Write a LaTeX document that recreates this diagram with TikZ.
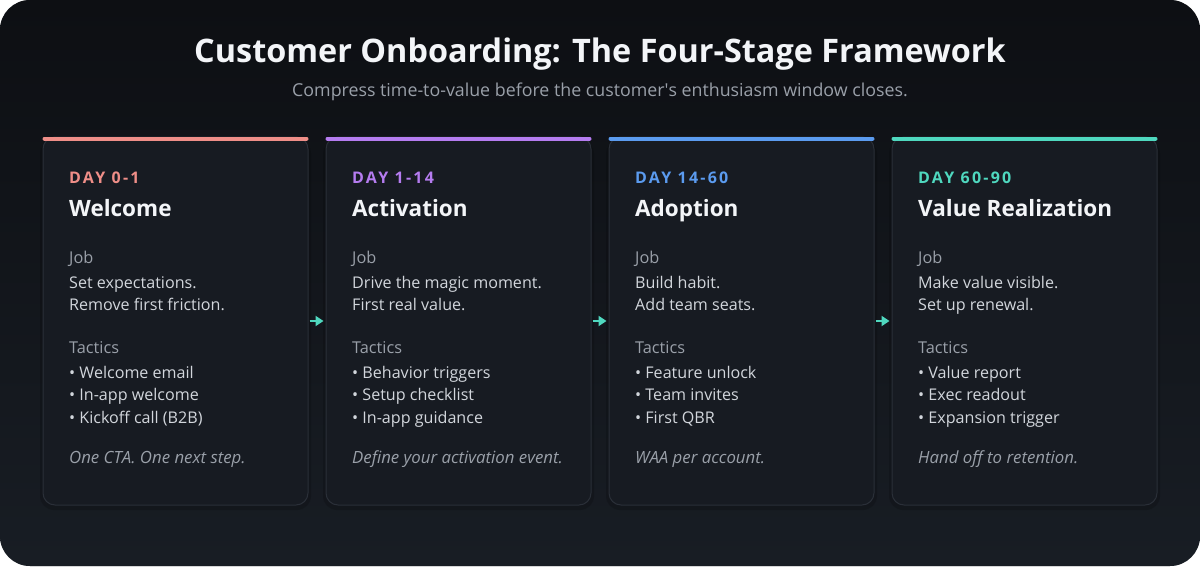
\documentclass[tikz,border=0pt]{standalone}
\usepackage{fontspec}
\setmainfont{Open Sans}
\newfontfamily\dayfont[LetterSpace=14]{Open Sans}
\usetikzlibrary{arrows.meta}
\definecolor{bgA}{HTML}{0D0F13}
\definecolor{bgB}{HTML}{181D24}
\definecolor{cardfill}{HTML}{171B22}
\definecolor{cardline}{HTML}{2A2F38}
\definecolor{muted}{HTML}{9AA0A9}
\definecolor{bodytxt}{HTML}{D2D6DC}
\definecolor{headtxt}{HTML}{F3F5F8}
\definecolor{cSalmon}{HTML}{EF8E88}
\definecolor{cPurple}{HTML}{B57CF0}
\definecolor{cBlue}{HTML}{5B9BEF}
\definecolor{cTeal}{HTML}{4FD8BF}
\tikzset{
  card/.style={draw=cardline, line width=1pt, fill=cardfill, rounded corners=12pt,
    minimum width=265pt, minimum height=368pt, inner sep=0pt},
  cardshadow/.style={fill=black, opacity=0.15, rounded corners=14pt},
  daylbl/.style={anchor=base west, inner sep=0pt, font=\dayfont\bfseries\fontsize{16}{19}\selectfont},
  stagehead/.style={anchor=base west, inner sep=0pt, text=headtxt, font=\bfseries\fontsize{22.5}{26}\selectfont},
  seclbl/.style={anchor=base west, inner sep=0pt, text=muted, font=\fontsize{16.3}{19}\selectfont},
  bodyln/.style={anchor=base west, inner sep=0pt, text=bodytxt, font=\fontsize{16.1}{19}\selectfont},
  notelbl/.style={anchor=base west, inner sep=0pt, text=muted, font=\itshape\fontsize{16.8}{19}\selectfont},
  flow/.style={draw=cTeal, line width=2.5pt, -{Triangle[length=8pt,width=10pt]}, shorten <=1pt, shorten >=2pt}
}
\begin{document}
\begin{tikzpicture}[x=1pt,y=-1pt]
\useasboundingbox (0,0) rectangle (1200,566);
\fill[white] (0,0) rectangle (1200,566);
\shade[left color=bgA, right color=bgB, shading angle=0, rounded corners=30pt] (0,0) rectangle (1200,566);
\shade[top color=bgA, bottom color=bgB, opacity=0.5, rounded corners=30pt] (0,0) rectangle (1200,566);

\node[text=headtxt, font=\bfseries\fontsize{32.4}{38}\selectfont, anchor=base, inner sep=0pt] (title) at (600,62) {Customer Onboarding: The Four-Stage Framework};
\node[text=muted, font=\fontsize{17.8}{21}\selectfont, anchor=base, inner sep=0pt] (subtitle) at (600,96) {Compress time-to-value before the customer\textquotesingle s enthusiasm window closes.};

\foreach \x in {43,326,609,892}{
  \fill[cardshadow] (\x-3,140) rectangle (\x+268,510);
}
\node[card] (c1) at (175.5,321) {};
\node[card] (c2) at (458.5,321) {};
\node[card] (c3) at (741.5,321) {};
\node[card] (c4) at (1024.5,321) {};

\draw[cSalmon, line width=4pt, line cap=round] ([xshift=2pt,yshift=-2pt]c1.north west) -- ([xshift=-2pt,yshift=-2pt]c1.north east);
\draw[cPurple, line width=4pt, line cap=round] ([xshift=2pt,yshift=-2pt]c2.north west) -- ([xshift=-2pt,yshift=-2pt]c2.north east);
\draw[cBlue, line width=4pt, line cap=round] ([xshift=2pt,yshift=-2pt]c3.north west) -- ([xshift=-2pt,yshift=-2pt]c3.north east);
\draw[cTeal, line width=4pt, line cap=round] ([xshift=2pt,yshift=-2pt]c4.north west) -- ([xshift=-2pt,yshift=-2pt]c4.north east);

\draw[flow] (c1.east) -- (c2.west);
\draw[flow] (c2.east) -- (c3.west);
\draw[flow] (c3.east) -- (c4.west);

% Card 1
\node[daylbl, text=cSalmon] (d1) at (69,183) {DAY 0-1};
\node[stagehead] (h1) at (69,216) {Welcome};
\node[seclbl] (j1) at (69,263) {Job};
\node[bodyln] (j1a) at (69,288) {Set expectations.};
\node[bodyln] (j1b) at (69,310) {Remove first friction.};
\node[seclbl] (t1) at (69,353) {Tactics};
\node[bodyln] (t1a) at (69,378) {• Welcome email};
\node[bodyln] (t1b) at (69,400) {• In-app welcome};
\node[bodyln] (t1c) at (69,423) {• Kickoff call (B2B)};
\node[notelbl] (n1) at (69,463) {One CTA. One next step.};

% Card 2
\node[daylbl, text=cPurple] (d2) at (352,183) {DAY 1-14};
\node[stagehead] (h2) at (352,216) {Activation};
\node[seclbl] (j2) at (352,263) {Job};
\node[bodyln] (j2a) at (352,288) {Drive the magic moment.};
\node[bodyln] (j2b) at (352,310) {First real value.};
\node[seclbl] (t2) at (352,353) {Tactics};
\node[bodyln] (t2a) at (352,378) {• Behavior triggers};
\node[bodyln] (t2b) at (352,400) {• Setup checklist};
\node[bodyln] (t2c) at (352,423) {• In-app guidance};
\node[notelbl] (n2) at (352,463) {Define your activation event.};

% Card 3
\node[daylbl, text=cBlue] (d3) at (635,183) {DAY 14-60};
\node[stagehead] (h3) at (635,216) {Adoption};
\node[seclbl] (j3) at (635,263) {Job};
\node[bodyln] (j3a) at (635,288) {Build habit.};
\node[bodyln] (j3b) at (635,310) {Add team seats.};
\node[seclbl] (t3) at (635,353) {Tactics};
\node[bodyln] (t3a) at (635,378) {• Feature unlock};
\node[bodyln] (t3b) at (635,400) {• Team invites};
\node[bodyln] (t3c) at (635,423) {• First QBR};
\node[notelbl] (n3) at (635,463) {WAA per account.};

% Card 4
\node[daylbl, text=cTeal] (d4) at (918,183) {DAY 60-90};
\node[stagehead] (h4) at (918,216) {Value Realization};
\node[seclbl] (j4) at (918,263) {Job};
\node[bodyln] (j4a) at (918,288) {Make value visible.};
\node[bodyln] (j4b) at (918,310) {Set up renewal.};
\node[seclbl] (t4) at (918,353) {Tactics};
\node[bodyln] (t4a) at (918,378) {• Value report};
\node[bodyln] (t4b) at (918,400) {• Exec readout};
\node[bodyln] (t4c) at (918,423) {• Expansion trigger};
\node[notelbl] (n4) at (918,463) {Hand off to retention.};
\end{tikzpicture}
\end{document}
